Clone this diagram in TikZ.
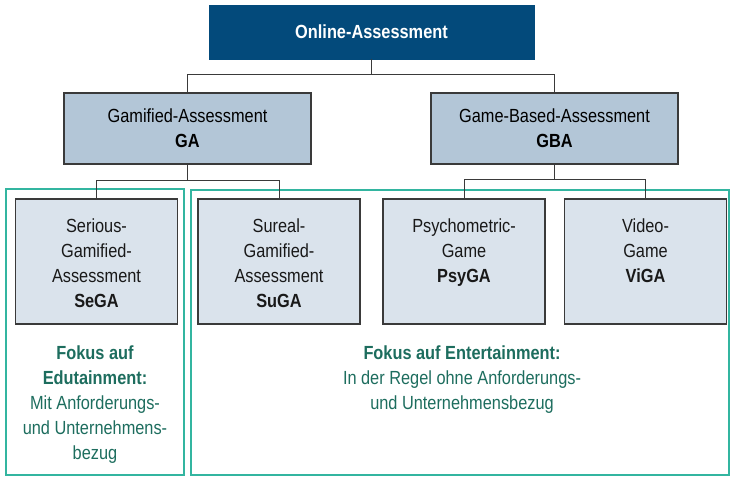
\documentclass[tikz,border=0pt]{standalone}
\usepackage{fontspec}
\setmainfont{Liberation Sans}[FakeStretch=0.86]
\usetikzlibrary{positioning}
\definecolor{topblue}{HTML}{034A7B}
\definecolor{midfill}{HTML}{B3C6D7}
\definecolor{childfill}{HTML}{DAE3EC}
\definecolor{linegray}{HTML}{3A3A3A}
\definecolor{frameteal}{HTML}{33B5A0}
\definecolor{textgreen}{HTML}{1D6D5E}
\tikzset{
  base/.style={font=\fontsize{19}{25}\selectfont, align=center},
  topbox/.style={base, rectangle, fill=topblue, text=white, draw=topblue,
    minimum width=325pt, minimum height=54pt, inner sep=0pt, font=\fontsize{19}{25}\selectfont\bfseries},
  midbox/.style={base, rectangle, fill=midfill, draw=linegray, line width=1.1pt,
    minimum width=247pt, minimum height=71pt, inner sep=0pt},
  childbox/.style={rectangle, fill=childfill, draw=linegray, line width=1.1pt,
    minimum width=162pt, minimum height=125pt, inner sep=0pt},
  boxtext/.style={base, anchor=north, inner sep=0pt, text=black!90},
  framebox/.style={rectangle, draw=frameteal, line width=2pt, inner sep=0pt},
  greentext/.style={base, anchor=north, inner sep=0pt, text=textgreen},
  conn/.style={draw=linegray, line width=1pt},
}
\begin{document}
\begin{tikzpicture}[x=1pt,y=-1pt]
\useasboundingbox (0,0) rectangle (730,476);
% frames
\node[framebox, minimum width=178pt, minimum height=286pt] (fl) at (95,332) {};
\node[framebox, minimum width=538pt, minimum height=285pt] (fr) at (460,332.5) {};
% top
\node[topbox] (top) at (371.5,32) {Online-Assessment};
% middle
\node[midbox] (ga) at (187.5,128.5) {Gamified-Assessment\\\textbf{GA}};
\node[midbox] (gba) at (554.5,128.5) {Game-Based-Assessment\\\textbf{GBA}};
% children
\node[childbox] (sega) at (96.5,261.5) {};
\node[childbox] (suga) at (279,261.5) {};
\node[childbox] (psyga) at (464,261.5) {};
\node[childbox] (viga) at (645.5,261.5) {};
\node[boxtext] (segat) at (96.5,218.5) {Serious-\\Gamified-\\Assessment\\\textbf{SeGA}};
\node[boxtext] (sugat) at (279,218.5) {Sureal-\\Gamified-\\Assessment\\\textbf{SuGA}};
\node[boxtext] (psygat) at (464,218.5) {Psychometric-\\Game\\\textbf{PsyGA}};
\node[boxtext] (vigat) at (645.5,218.5) {Video-\\Game\\\textbf{ViGA}};
% connectors
\draw[conn] (top.south) -- ++(0,15) -| (ga.north);
\draw[conn] (top.south) -- ++(0,15) -| (gba.north);
\draw[conn] (ga.south) -- ++(0,16) -| (sega.north);
\draw[conn] (ga.south) -- ++(0,16) -| (suga.north);
\draw[conn] (gba.south) -- ++(0,15) -| (psyga.north);
\draw[conn] (gba.south) -- ++(0,15) -| (viga.north);
% green texts
\node[greentext] (ftl) at (95,345.5) {\textbf{Fokus auf}\\\textbf{Edutainment:}\\Mit Anforderungs-\\und Unternehmens-\\bezug};
\node[greentext] (ftr) at (462,345.5) {\textbf{Fokus auf Entertainment:}\\In der Regel ohne Anforderungs-\\und Unternehmensbezug};
\end{tikzpicture}
\end{document}
